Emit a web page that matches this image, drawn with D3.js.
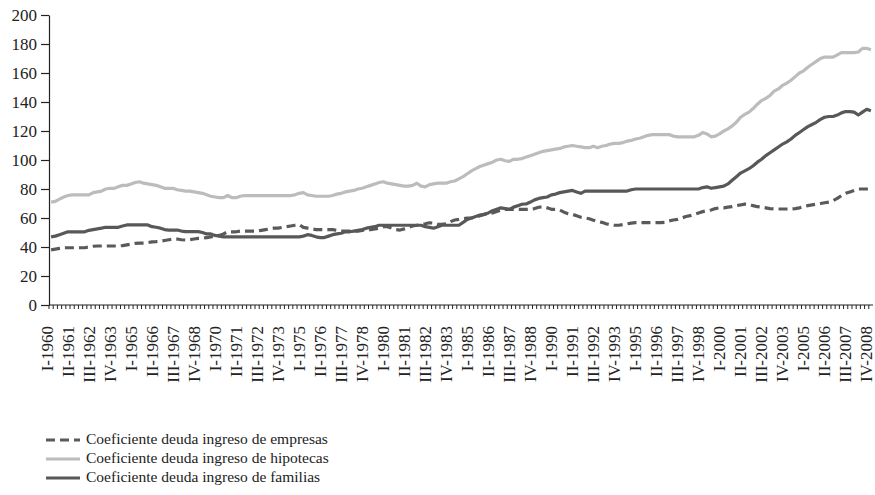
<!DOCTYPE html>
<html>
<head>
<meta charset="utf-8">
<script src="https://cdn.jsdelivr.net/npm/d3@7"></script>
<style>
  html, body { margin: 0; padding: 0; background: #fff; }
  svg { display: block; font-family: "Liberation Serif", "Times New Roman", serif; }
</style>
</head>
<body>
<svg id="chart" width="875" height="495"></svg>
<script>
// ---------- DATA ----------
const years = d3.range(1960, 2009);
const quarterNames = ["I", "II", "III", "IV"];
const categories = years.flatMap(y => quarterNames.map(q => q + "-" + y));

const tickLabels = [
  "I-1960","II-1961","III-1962","IV-1963","I-1965","II-1966","III-1967","IV-1968",
  "I-1970","II-1971","III-1972","IV-1973","I-1975","II-1976","III-1977","IV-1978",
  "I-1980","II-1981","III-1982","IV-1983","I-1985","II-1986","III-1987","IV-1988",
  "I-1990","II-1991","III-1992","IV-1993","I-1995","II-1996","III-1997","IV-1998",
  "I-2000","II-2001","III-2002","IV-2003","I-2005","II-2006","III-2007","IV-2008"
];

const yTicks = [0, 20, 40, 60, 80, 100, 120, 140, 160, 180, 200];

const seriesNames = [
  "Coeficiente deuda ingreso de empresas",
  "Coeficiente deuda ingreso de hipotecas",
  "Coeficiente deuda ingreso de familias"
];

// Coeficiente deuda ingreso de empresas (quarterly, 1960-2008)
const empresas = [
  38, 38.5, 39, 39.5,       39.5, 39.5, 39.5, 39.5,   39.5, 40, 40.5, 40.7,     40.7, 40.7, 40.7, 40.7,
  40.7, 41, 41.5, 42,       42.5, 42.7, 42.7, 43,     43.5, 43.7, 44, 44.5,     45, 45.5, 45.5, 45,
  44.8, 45, 45.5, 46,       46, 46.5, 47, 47.5,       48, 49, 50.5, 50.5,       50.5, 51, 51, 51,
  51, 51, 51.5, 52,         52.5, 53, 53, 53.5,       54, 54.5, 55, 55.5,       53.5, 53, 52.5, 52,
  52, 52, 52, 52,           51.5, 51, 51, 51,         51, 51, 51.5, 52,         52, 52.5, 53, 54,
  54, 53, 52, 51.7,         52.5, 53.5, 54.5, 55,     55.5, 56, 56.7, 56.5,     55.6, 55.6, 56, 57.5,
  58.6, 59, 59.5, 60,       60, 60.5, 61.5, 62.5,     63, 63.5, 64.5, 65.5,     66, 66, 66, 66,
  66, 66, 66, 66.5,         67.4, 67.8, 67, 66,       66, 65.5, 64, 63,         62.5, 61.5, 60.5, 60,
  59.5, 58.5, 57.5, 57,     56, 55.5, 55, 55,         55.5, 56, 56.5, 56.8,     56.8, 56.8, 56.8, 56.8,
  56.8, 56.8, 57, 58,       58.6, 59, 60, 61,         61.6, 62.5, 63.5, 64.4,   65, 65.5, 66.5, 67,
  67, 67.5, 67.8, 68.5,     69, 69.6, 69.5, 68.5,     67.8, 67.5, 67, 66.5,     66.2, 66.2, 66.2, 66.2,
  66.2, 66.5, 67, 67.8,     68.5, 69, 69.5, 70,       70.5, 71, 72, 73.5,       75.5, 77, 78, 79,
  80, 80, 80, 80
];

// Coeficiente deuda ingreso de hipotecas (quarterly, 1960-2008)
const hipotecas = [
  71, 71.5, 73, 74.5,       75.5, 76, 76, 76,         76, 76, 77.5, 78,         78.5, 80, 80.5, 80.5,
  81.5, 82.5, 82.5, 83.5,   84.5, 85, 84, 83.5,       83, 82.5, 81.5, 80.5,     80.5, 80.5, 79.5, 79,
  78.5, 78.5, 78, 77.5,     77, 76, 75, 74.5,         74, 74, 75.5, 74,         74, 75, 75.5, 75.5,
  75.5, 75.5, 75.5, 75.5,   75.5, 75.5, 75.5, 75.5,   75.5, 75.5, 76, 77,       77.5, 76, 75.5, 75,
  75, 75, 75, 75.5,         76.5, 77, 78, 78.5,       79, 80, 80.5, 81.5,       82.5, 83.5, 84.5, 85,
  84, 83.5, 83, 82.5,       82, 82, 82.5, 84,         82, 81.5, 83, 83.5,       84, 84, 84, 85,
  85.5, 87, 88.5, 90.5,     92.5, 94, 95.5, 96.5,     97.5, 98.5, 100, 100.5,   99.5, 99, 100.5, 100.5,
  101, 102, 103, 104,       105, 106, 106.5, 107,     107.5, 108, 109, 109.5,   110, 109.5, 109, 108.5,
  108.5, 109.5, 108.5, 109.5, 110, 111, 111.5, 111.5, 112, 113, 113.5, 114.5,   115, 116, 117, 117.5,
  117.5, 117.5, 117.5, 117.5, 116.5, 116, 116, 116,   116, 116, 117, 119,       118, 116, 116.5, 118,
  120, 121.5, 123.5, 126,   129.5, 131.5, 133, 135.5, 138.5, 141, 142.5, 144.5, 147.5, 149, 151.5, 153,
  155, 157.5, 160, 161.5,   164, 166, 168, 170,       171, 171, 171, 172.5,     174, 174, 174, 174,
  174.5, 177, 177, 176
];

// Coeficiente deuda ingreso de familias (quarterly, 1960-2008)
const familias = [
  47, 47.5, 48.5, 49.5,     50.5, 50.5, 50.5, 50.5,   50.5, 51.5, 52, 52.5,     53, 53.6, 53.6, 53.6,
  53.6, 54.5, 55.2, 55.2,   55.2, 55.2, 55.2, 55.2,   54, 53.6, 53, 52,         51.7, 51.7, 51.7, 51,
  50.6, 50.6, 50.6, 50.6,   50, 49, 49, 48,           47.5, 47, 47, 47,         47, 47, 47, 47,
  47, 47, 47, 47,           47, 47, 47, 47,           47, 47, 47, 47,           47.5, 48.5, 48, 47,
  46.5, 46.5, 47.5, 48.5,   49, 49.5, 50.5, 50.5,     51, 51.5, 52, 53,         53.5, 54, 55, 55,
  55, 55, 55, 55,           55, 55, 55, 55,           55, 54, 53.5, 53,         54, 55, 55, 55,
  55, 55, 57, 59,           60, 61, 62, 62.5,         63.5, 65, 66, 67,         66.5, 66, 67.5, 68.5,
  69.5, 69.7, 71, 72.5,     73.5, 74, 74.5, 76,       76.5, 77.5, 78, 78.5,     79, 78, 77, 78.5,
  78.6, 78.6, 78.6, 78.6,   78.6, 78.6, 78.6, 78.6,   78.6, 78.6, 79.5, 80,     80, 80, 80, 80,
  80, 80, 80, 80,           80, 80, 80, 80,           80, 80, 80, 81,           81.5, 80.5, 81, 81.5,
  82, 83.5, 86, 88.5,       91, 92.5, 94, 96,         98.5, 100.5, 103, 105,    107, 109, 111, 112.5,
  114.5, 117, 119, 121,     123, 124.5, 126, 128,     129.5, 130, 130, 131,     132.5, 133.4, 133.4, 133,
  131, 133, 135, 134
];

// ---------- CHART ----------
const svg = d3.select("#chart");

const x = d3.scaleBand().domain(categories).range([49, 873]).paddingInner(0).paddingOuter(0);
const y = d3.scaleLinear().domain([0, 200]).range([305, 15]);
const xc = c => x(c) + x.bandwidth() / 2;

const textColor = "#222";

// y axis
const yAxis = svg.append("g")
  .attr("transform", "translate(49,0)")
  .call(d3.axisLeft(y).tickValues(yTicks).tickSize(8).tickPadding(4).tickSizeOuter(0));
yAxis.select(".domain").attr("stroke", "#222").attr("stroke-width", 1.2);
yAxis.selectAll(".tick line").attr("stroke", "#222").attr("stroke-width", 1.2);
yAxis.selectAll(".tick text")
  .attr("fill", textColor)
  .style("font-size", "17px")
  .style("font-family", "'Liberation Serif', serif");

// x axis: minor ticks at category boundaries
const xTicks = svg.append("g")
  .attr("transform", `translate(${-x.bandwidth() / 2},305)`)
  .call(d3.axisBottom(x).tickSize(4).tickFormat("").tickSizeOuter(0));
xTicks.select(".domain").remove();
xTicks.selectAll(".tick line").attr("stroke", "#222").attr("stroke-width", 1);

svg.append("line")
  .attr("x1", 49).attr("x2", 873)
  .attr("y1", 305).attr("y2", 305)
  .attr("stroke", "#222").attr("stroke-width", 1.2);

// x labels
const xLab = svg.append("g")
  .attr("transform", `translate(-4.5,305)`)
  .call(d3.axisBottom(x).tickValues(tickLabels).tickSize(0).tickPadding(0));
xLab.select(".domain").remove();
xLab.selectAll(".tick text")
  .attr("fill", textColor)
  .style("font-size", "17px")
  .style("font-family", "'Liberation Serif', serif")
  .attr("text-anchor", "end")
  .attr("transform", "rotate(-90)")
  .attr("x", -21)
  .attr("y", 0)
  .attr("dy", "0.35em");

// lines
const line = d3.line()
  .x((d, i) => xc(categories[i]))
  .y(d => y(d))
  .curve(d3.curveLinear);

const styles = [
  { data: empresas,  color: "#5a5a5a", width: 3.2, dash: "9,5" },
  { data: hipotecas, color: "#bcbcbc", width: 3.2, dash: null },
  { data: familias,  color: "#585858", width: 3.2, dash: null }
];

// draw order: hipotecas, empresas, familias
[1, 0, 2].forEach(k => {
  const s = styles[k];
  const p = svg.append("path")
    .datum(s.data)
    .attr("fill", "none")
    .attr("stroke", s.color)
    .attr("stroke-width", s.width)
    .attr("stroke-linejoin", "round")
    .attr("d", line);
  if (s.dash) p.attr("stroke-dasharray", s.dash);
});

// legend
const legend = svg.append("g");
const rowY = [439, 458, 477];
seriesNames.forEach((name, i) => {
  const s = styles[i];
  const g = legend.append("g").attr("transform", `translate(0,${rowY[i]})`);
  const l = g.append("line")
    .attr("x1", 46).attr("x2", 80).attr("y1", 1).attr("y2", 1)
    .attr("stroke", s.color).attr("stroke-width", s.width);
  if (s.dash) l.attr("stroke-dasharray", s.dash);
  g.append("text")
    .attr("x", 86).attr("y", 0).attr("dy", "0.33em")
    .attr("fill", textColor)
    .style("font-size", "15.5px")
    .text(name);
});
</script>
</body>
</html>
